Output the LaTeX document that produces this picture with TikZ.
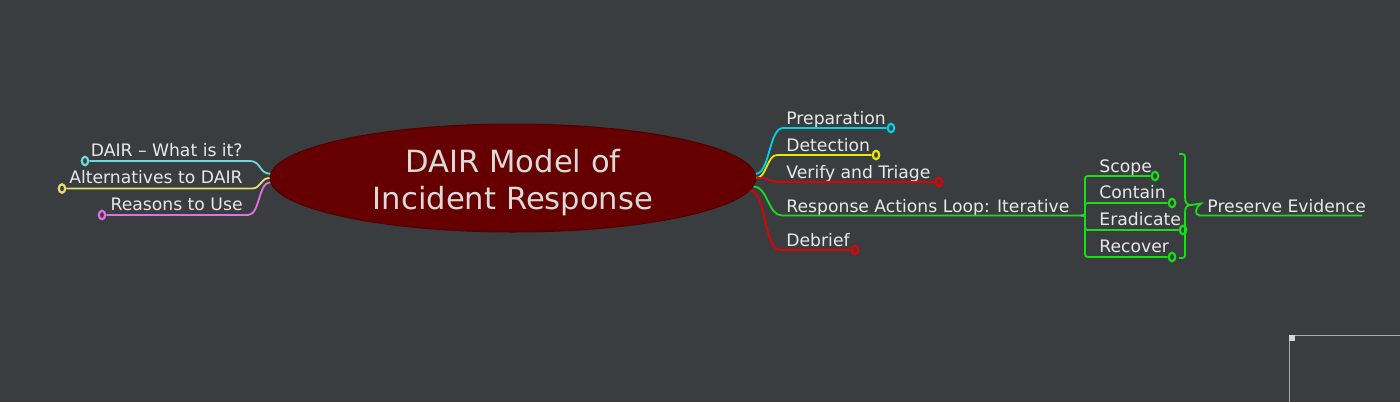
\documentclass[tikz,border=0pt]{standalone}
\usepackage{fontspec}
\setmainfont{DejaVu Sans}
\usetikzlibrary{shapes.geometric}
\definecolor{bg}{RGB}{58,61,64}
\definecolor{rootred}{RGB}{102,0,0}
\definecolor{rootedge}{RGB}{80,0,0}
\definecolor{txt}{RGB}{232,232,232}
\definecolor{ttl}{RGB}{218,218,218}
\definecolor{lcyan}{RGB}{112,214,220}
\definecolor{lyellow}{RGB}{230,225,110}
\definecolor{lpink}{RGB}{228,110,228}
\definecolor{rcyan}{RGB}{0,212,228}
\definecolor{ryellow}{RGB}{232,232,0}
\definecolor{rred}{RGB}{228,0,0}
\definecolor{rgreen}{RGB}{24,222,24}
\definecolor{framegray}{RGB}{170,170,170}
\definecolor{framesq}{RGB}{215,215,215}
\begin{document}
\begin{tikzpicture}[x=0.5pt,y=-0.5pt,
  lbl/.style={text=txt, font=\fontsize{8.6}{10}\selectfont, inner sep=0pt},
  ttlstyle/.style={text=ttl, font=\fontsize{15.3}{18.5}\selectfont, align=center, inner sep=0pt},
  knob/.style={ellipse, draw=#1, line width=1.1pt, minimum width=3.2pt, minimum height=4.2pt, inner sep=0pt},
  br/.style={draw=#1, line width=0.9pt}]
\fill[bg] (0,0) rectangle (1400,402);
\useasboundingbox (0,0) rectangle (1400,402);

% central topic
\node[ellipse, fill=rootred, draw=rootedge, line width=0.5pt, minimum width=243pt, minimum height=54pt, inner sep=0pt] (root) at (513,178) {};
\node[ttlstyle] (title) at (513,182.6) {DAIR Model of\\Incident Response};

% left topics
\node[lbl, anchor=base east] (l1) at (243,156) {DAIR – What is it?};
\node[lbl, anchor=base east] (l2) at (243,183.3) {Alternatives to DAIR};
\node[lbl, anchor=base east] (l3) at (243,210.7) {Reasons to Use};
\node[knob=lcyan] (k1) at (85,161) {};
\node[knob=lyellow] (k2) at (62,188.5) {};
\node[knob=lpink] (k3) at (102,215) {};
\draw[br=lcyan] (root.179.3) .. controls +(-11,0) and +(11,0) .. (250,161) -- (k1);
\draw[br=lyellow] (root.180.25) .. controls +(-9,0) and +(9,0) .. (252,188.5) -- (k2);
\draw[br=lpink] (root.181.9) .. controls +(-12,0) and +(12,0) .. (248,215) -- (k3);

% right topics
\node[lbl, anchor=base west] (r1) at (786,124) {Preparation};
\node[lbl, anchor=base west] (r2) at (786,151) {Detection};
\node[lbl, anchor=base west] (r3) at (786,178) {Verify and Triage};
\node[lbl, anchor=base west] (r4) at (786,212) {Response Actions Loop: Iterative};
\node[lbl, anchor=base west] (r5) at (786,246) {Debrief};
\node[knob=rcyan] (k4) at (891,128) {};
\node[knob=ryellow] (k5) at (876,155) {};
\node[knob=rred] (k6) at (939,182) {};
\node[knob=rred] (k8) at (855,250) {};
\coordinate (fork) at (1081,215.5);
\draw[br=rcyan] (root.1.6) .. controls +(14,0) and +(-14,0) .. (783,128) -- (k4);
\draw[br=ryellow] (root.0.95) .. controls +(10,0) and +(-10,0) .. (777,155) -- (k5);
\draw[br=rred] (root.-0.25) .. controls +(12,0) and +(-12,0) .. (782,182) -- (k6);
\draw[br=rgreen] (root.-2.4) .. controls +(14,0) and +(-14,0) .. (782,215.5) -- (fork);
\draw[br=rred] (root.-3.7) .. controls +(16,0) and +(-16,0) .. (780,250) -- (k8);

% sub topics
\node[lbl, anchor=base west] (s1) at (1099,172) {Scope};
\node[lbl, anchor=base west] (s2) at (1099,198.3) {Contain};
\node[lbl, anchor=base west] (s3) at (1099,225) {Eradicate};
\node[lbl, anchor=base west] (s4) at (1099,252.3) {Recover};
\node[knob=rgreen] (sk1) at (1155,176) {};
\node[knob=rgreen] (sk2) at (1172,203) {};
\node[knob=rgreen] (sk3) at (1183,230) {};
\node[knob=rgreen] (sk4) at (1172,257) {};
\draw[br=rgreen] (fork) .. controls (1085,215.5) .. (1085,211) -- (1085,182) .. controls (1085,176) .. (1091,176) -- (sk1);
\draw[br=rgreen] (fork) .. controls (1085,215.5) .. (1085,211) -- (1085,209) .. controls (1085,203) .. (1091,203) -- (sk2);
\draw[br=rgreen] (fork) .. controls (1085,215.5) .. (1085,220) -- (1085,224) .. controls (1085,230) .. (1091,230) -- (sk3);
\draw[br=rgreen] (fork) .. controls (1085,215.5) .. (1085,220) -- (1085,251) .. controls (1085,257) .. (1091,257) -- (sk4);

% summary brace
\node[lbl, anchor=base west] (pe) at (1207,212) {Preserve Evidence};
\coordinate (tip) at (1191,205);
\coordinate (peend) at (1362,215.5);
\draw[br=rgreen] (1179,154) .. controls (1185,154) .. (1185,160) -- (1185,197) .. controls (1185,203) and (1187,205) .. (tip);
\draw[br=rgreen] (1179,258) .. controls (1185,258) .. (1185,252) -- (1185,213) .. controls (1185,207) and (1187,205) .. (tip);
\draw[br=rgreen] (tip) -- (1201,203.5) .. controls (1195,207) and (1194,215.5) .. (1200,215.5) -- (peend);

% frame corner at bottom right
\draw[framegray, line width=0.6pt] (1294,335.8) -- (1400,335.8);
\draw[framegray, line width=0.6pt] (1289.5,340) -- (1289.5,402);
\fill[framesq] (1289,335) rectangle (1294.5,340.5);
\end{tikzpicture}
\end{document}
